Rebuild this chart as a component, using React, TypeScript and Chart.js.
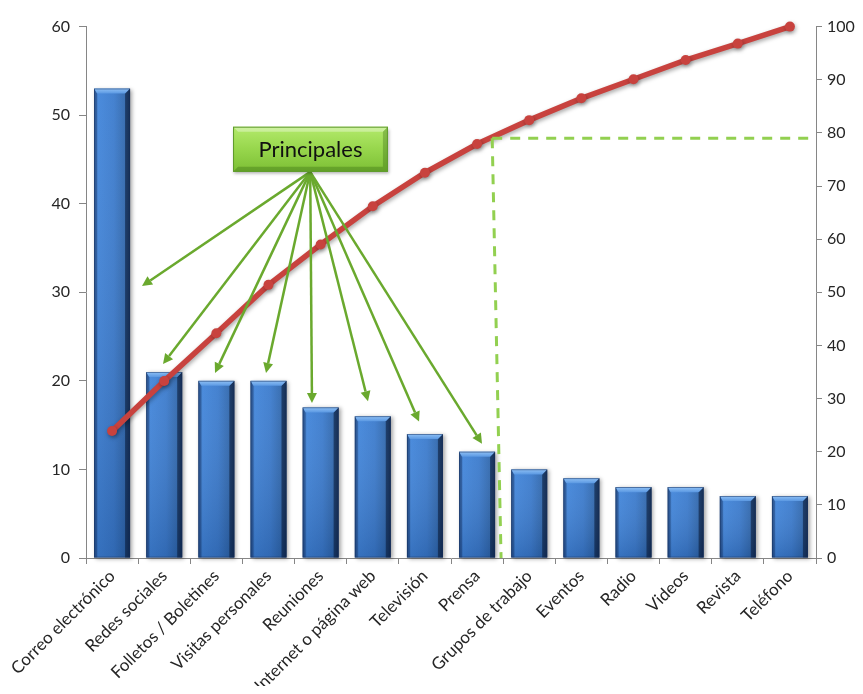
import React, { useEffect, useRef } from "react";
import { Chart, registerables } from "chart.js";

Chart.register(...registerables);

const categories = [
  "Correo electrónico",
  "Redes sociales",
  "Folletos / Boletines",
  "Visitas personales",
  "Reuniones",
  "Internet o página web",
  "Televisión",
  "Prensa",
  "Grupos de trabajo",
  "Eventos",
  "Radio",
  "Videos",
  "Revista",
  "Teléfono",
];
const frequency = [53, 21, 20, 20, 17, 16, 14, 12, 10, 9, 8, 8, 7, 7];
const cumulativePercent = [23.9, 33.3, 42.3, 51.4, 59.0, 66.2, 72.5, 77.9, 82.4, 86.5, 90.1, 93.7, 96.8, 100];
const leftAxisMax = 60;
const leftAxisStep = 10;
const rightAxisMax = 100;
const rightAxisStep = 10;
const paretoThreshold = 79;
const calloutText = "Principales";

const FONT = "Lato, 'Open Sans', sans-serif";

// callout geometry in scale units (category index, left-axis value)
const calloutBox = { x0: 2.32, x1: 5.29, yTop: 48.7, yBottom: 43.6 };
const calloutOrigin = { x: 3.8, y: 43.6 };
const calloutTargets = [
  [0.574, 30.7],
  [0.977, 21.9],
  [1.974, 20.9],
  [2.952, 20.9],
  [3.834, 17.5],
  [4.908, 17.7],
  [5.887, 15.4],
  [7.095, 12.9],
];
const thresholdLine = { topIndex: 7.29, bottomIndex: 7.46 };

const bevelBars = {
  id: "bevelBars",
  afterDatasetDraw(chart: any, args: any) {
    if (args.index !== 0) return;
    const ctx: CanvasRenderingContext2D = chart.ctx;
    const meta = chart.getDatasetMeta(0);
    ctx.save();
    meta.data.forEach((bar: any) => {
      const w = bar.width;
      const l = bar.x - w / 2;
      const r = bar.x + w / 2;
      const t = bar.y;
      const b = bar.base;
      const bv = 5;
      ctx.save();
      ctx.shadowColor = "rgba(0,0,0,0.35)";
      ctx.shadowBlur = 4;
      ctx.shadowOffsetX = 2;
      ctx.shadowOffsetY = 1;
      const g = ctx.createLinearGradient(l, 0, r, 0);
      g.addColorStop(0, "#2b5c9c");
      g.addColorStop(0.12, "#4185da");
      g.addColorStop(0.55, "#3b7bcd");
      g.addColorStop(0.85, "#3068ae");
      g.addColorStop(1, "#1d3f70");
      ctx.fillStyle = g;
      ctx.fillRect(l, t, w, b - t);
      ctx.restore();
      const vg = ctx.createLinearGradient(0, t, 0, b);
      vg.addColorStop(0, "rgba(255,255,255,0.05)");
      vg.addColorStop(1, "rgba(0,20,60,0.18)");
      ctx.fillStyle = vg;
      ctx.fillRect(l, t, w, b - t);
      ctx.fillStyle = "rgba(20,50,100,0.35)";
      ctx.beginPath();
      ctx.moveTo(l, t);
      ctx.lineTo(l + bv * 0.6, t + bv);
      ctx.lineTo(l + bv * 0.6, b);
      ctx.lineTo(l, b);
      ctx.closePath();
      ctx.fill();
      ctx.fillStyle = "rgba(10,25,55,0.55)";
      ctx.beginPath();
      ctx.moveTo(r, t);
      ctx.lineTo(r, b);
      ctx.lineTo(r - bv, b);
      ctx.lineTo(r - bv, t + bv);
      ctx.closePath();
      ctx.fill();
      const tg = ctx.createLinearGradient(0, t, 0, t + bv);
      tg.addColorStop(0, "#8fc0f5");
      tg.addColorStop(1, "#5a98e2");
      ctx.fillStyle = tg;
      ctx.beginPath();
      ctx.moveTo(l, t);
      ctx.lineTo(r, t);
      ctx.lineTo(r - bv, t + bv);
      ctx.lineTo(l + bv * 0.6, t + bv);
      ctx.closePath();
      ctx.fill();
      ctx.strokeStyle = "rgba(20,45,90,0.6)";
      ctx.lineWidth = 0.8;
      ctx.strokeRect(l + 0.4, t + 0.4, w - 0.8, b - t - 0.8);
    });
    ctx.restore();
  },
};

const lineShadow = {
  id: "lineShadow",
  beforeDatasetDraw(chart: any, args: any) {
    if (args.index !== 1) return;
    const ctx = chart.ctx;
    ctx.save();
    ctx.shadowColor = "rgba(0,0,0,0.35)";
    ctx.shadowBlur = 4;
    ctx.shadowOffsetX = 1;
    ctx.shadowOffsetY = 2;
  },
  afterDatasetDraw(chart: any, args: any) {
    if (args.index !== 1) return;
    chart.ctx.restore();
  },
};

function drawArrow(ctx: CanvasRenderingContext2D, x0: number, y0: number, x1: number, y1: number) {
  const ang = Math.atan2(y1 - y0, x1 - x0);
  const head = 10;
  const half = 5;
  const bx = x1 - head * Math.cos(ang);
  const by = y1 - head * Math.sin(ang);
  ctx.beginPath();
  ctx.moveTo(x0, y0);
  ctx.lineTo(bx, by);
  ctx.stroke();
  ctx.beginPath();
  ctx.moveTo(x1, y1);
  ctx.lineTo(bx + half * Math.sin(ang), by - half * Math.cos(ang));
  ctx.lineTo(bx - half * Math.sin(ang), by + half * Math.cos(ang));
  ctx.closePath();
  ctx.fill();
}

const annotations = {
  id: "paretoAnnotations",
  afterDatasetsDraw(chart: any) {
    const ctx: CanvasRenderingContext2D = chart.ctx;
    const xs = chart.scales.x;
    const ys = chart.scales.y;
    const y1s = chart.scales.y1;
    ctx.save();
    ctx.strokeStyle = "#92d050";
    ctx.lineWidth = 3;
    ctx.setLineDash([10, 8]);
    const ty = y1s.getPixelForValue(paretoThreshold);
    const tx = xs.getPixelForValue(thresholdLine.topIndex);
    const bx = xs.getPixelForValue(thresholdLine.bottomIndex);
    ctx.beginPath();
    ctx.moveTo(tx, ty);
    ctx.lineTo(chart.chartArea.right, ty);
    ctx.stroke();
    ctx.beginPath();
    ctx.moveTo(tx, ty);
    ctx.lineTo(bx, ys.getPixelForValue(0));
    ctx.stroke();
    ctx.setLineDash([]);

    const ox = xs.getPixelForValue(calloutOrigin.x);
    const oy = ys.getPixelForValue(calloutOrigin.y);
    ctx.strokeStyle = "#6aa92e";
    ctx.fillStyle = "#6aa92e";
    ctx.lineWidth = 2.5;
    calloutTargets.forEach(([ix, v]) => {
      drawArrow(ctx, ox, oy, xs.getPixelForValue(ix), ys.getPixelForValue(v));
    });

    const bl = xs.getPixelForValue(calloutBox.x0);
    const br = xs.getPixelForValue(calloutBox.x1);
    const bt = ys.getPixelForValue(calloutBox.yTop);
    const bb = ys.getPixelForValue(calloutBox.yBottom);
    ctx.save();
    ctx.shadowColor = "rgba(0,0,0,0.3)";
    ctx.shadowBlur = 3;
    ctx.shadowOffsetX = 1;
    ctx.shadowOffsetY = 2;
    const bg = ctx.createLinearGradient(0, bt, 0, bb);
    bg.addColorStop(0, "#b3ea6b");
    bg.addColorStop(0.5, "#97d64c");
    bg.addColorStop(1, "#7cbf35");
    ctx.fillStyle = bg;
    ctx.fillRect(bl, bt, br - bl, bb - bt);
    ctx.restore();
    const bv = 5;
    ctx.fillStyle = "rgba(255,255,255,0.35)";
    ctx.beginPath();
    ctx.moveTo(bl, bt);
    ctx.lineTo(br, bt);
    ctx.lineTo(br - bv, bt + bv);
    ctx.lineTo(bl + bv, bt + bv);
    ctx.closePath();
    ctx.fill();
    ctx.fillStyle = "rgba(40,90,10,0.3)";
    ctx.beginPath();
    ctx.moveTo(br, bt);
    ctx.lineTo(br, bb);
    ctx.lineTo(bl, bb);
    ctx.lineTo(bl + bv, bb - bv);
    ctx.lineTo(br - bv, bb - bv);
    ctx.lineTo(br - bv, bt + bv);
    ctx.closePath();
    ctx.fill();
    ctx.strokeStyle = "#5f9a2c";
    ctx.lineWidth = 1;
    ctx.strokeRect(bl + 0.5, bt + 0.5, br - bl - 1, bb - bt - 1);
    ctx.fillStyle = "#111111";
    ctx.font = `22px ${FONT}`;
    ctx.textAlign = "center";
    ctx.textBaseline = "middle";
    ctx.fillText(calloutText, (bl + br) / 2, (bt + bb) / 2 + 1);
    ctx.restore();
  },
};

export default function App() {
  const ref = useRef<HTMLCanvasElement>(null);
  useEffect(() => {
    if (!ref.current) return;
    const chart = new Chart(ref.current, {
      type: "bar",
      data: {
        labels: categories,
        datasets: [
          {
            type: "bar",
            label: "Frecuencia",
            data: frequency,
            yAxisID: "y",
            backgroundColor: "rgba(0,0,0,0)",
            borderWidth: 0,
            barPercentage: 0.69,
            categoryPercentage: 1,
            order: 1,
          },
          {
            type: "line",
            label: "% acumulado",
            data: cumulativePercent,
            yAxisID: "y1",
            borderColor: "#c8423e",
            backgroundColor: "#c8423e",
            borderWidth: 5.5,
            pointRadius: 5,
            pointBackgroundColor: "#c8423e",
            pointBorderColor: "#c8423e",
            pointBorderWidth: 0,
            tension: 0,
            clip: false,
            order: 0,
          } as any,
        ],
      },
      options: {
        responsive: false,
        animation: false,
        layout: { padding: { top: 15, left: 0, right: 0, bottom: 0 } },
        plugins: {
          legend: { display: false },
          tooltip: { enabled: false },
        },
        scales: {
          x: {
            offset: true,
            grid: {
              offset: true,
              drawOnChartArea: false,
              drawTicks: true,
              tickLength: 6,
              color: "#868686",
            },
            border: { display: true, color: "#868686" },
            ticks: {
              autoSkip: false,
              minRotation: 45,
              maxRotation: 45,
              padding: 2,
              color: "#262626",
              font: { family: FONT, size: 17 },
            },
            afterFit(scale: any) {
              scale.height = 128;
              scale.paddingLeft = 0;
              scale.paddingRight = 0;
            },
          },
          y: {
            position: "left",
            min: 0,
            max: leftAxisMax,
            ticks: {
              stepSize: leftAxisStep,
              padding: 9,
              color: "#262626",
              font: { family: FONT, size: 16 },
            },
            grid: {
              drawOnChartArea: false,
              drawTicks: true,
              tickLength: 7,
              color: "#868686",
            },
            border: { display: true, color: "#868686" },
            afterFit(scale: any) {
              scale.width = 78;
            },
          },
          y1: {
            position: "right",
            min: 0,
            max: rightAxisMax,
            ticks: {
              stepSize: rightAxisStep,
              padding: 5,
              color: "#262626",
              font: { family: FONT, size: 16 },
            },
            grid: {
              drawOnChartArea: false,
              drawTicks: true,
              tickLength: 6,
              color: "#868686",
            },
            border: { display: true, color: "#868686" },
            afterFit(scale: any) {
              scale.width = 47;
            },
          },
        },
      },
      plugins: [bevelBars, lineShadow, annotations],
    });
    return () => chart.destroy();
  }, []);
  return (
    <div style={{ width: 855, height: 678 }}>
      <canvas ref={ref} width={855} height={678} style={{ display: "block" }} />
    </div>
  );
}
